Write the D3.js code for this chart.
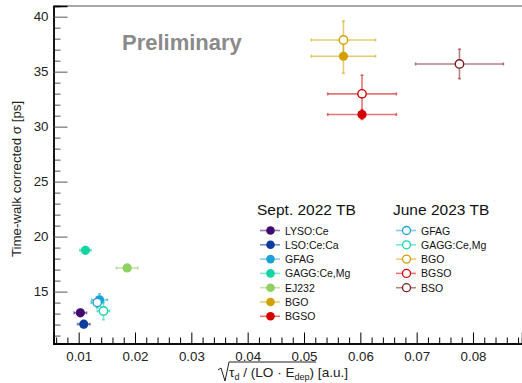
<!DOCTYPE html>
<html><head><meta charset="utf-8">
<script src="https://cdn.jsdelivr.net/npm/d3@7"></script>
<style>body{margin:0;background:#fff}svg{display:block;font-family:"Liberation Sans",Arial,sans-serif}</style>
</head><body><svg id="c" width="522" height="383"></svg>
<script>
// Sept. 2022 TB (filled markers)
const septNames = ["LYSO:Ce","LSO:Ce:Ca","GFAG","GAGG:Ce,Mg","EJ232","BGO","BGSO"];
const septX  = [0.0103, 0.0109, 0.0137, 0.0112, 0.0186, 0.0570, 0.0603];
const septXe = [0.0011, 0.0011, 0.0014, 0.0010, 0.0019, 0.0057, 0.0061];
const septY  = [13.07, 12.04, 14.25, 18.75, 17.15, 36.40, 31.10];
const septYe = [0.3, 0.3, 0.55, 0.35, 0.25, 1.55, 0.45];
const septColors = ["#3f0a72","#0c3c9c","#1ba1d8","#13d4a4","#8fd060","#d4a000","#d40000"];
// June 2023 TB (open markers)
const juneNames = ["GFAG","GAGG:Ce,Mg","BGO","BGSO","BSO"];
const juneX  = [0.0133, 0.0144, 0.0570, 0.0603, 0.0776];
const juneXe = [0.0011, 0.0011, 0.0057, 0.0061, 0.0078];
const juneY  = [14.0, 13.24, 37.88, 32.98, 35.70];
const juneYe = [0.5, 0.8, 1.72, 1.7, 1.34];
const juneColors = ["#1ba1d8","#13d4a4","#d4a000","#d40000","#7b1c1c"];
const xTicks = [0.01,0.02,0.03,0.04,0.05,0.06,0.07,0.08];
const yTicks = [15,20,25,30,35,40];

const svg = d3.select("#c");
const L=53.5, R=522, T=6, B=343.5;
const x = d3.scaleLinear().domain([0.00553,0.0887]).range([L,R]);
const y = d3.scaleLinear().domain([10.28,40.97]).range([B,T]);

// top border
svg.append("line").attr("x1",L).attr("x2",R).attr("y1",T).attr("y2",T).attr("stroke","#888").attr("stroke-width",1.6);

// axes
const xMinor = d3.range(0.006,0.0887,0.002).filter(v=>!xTicks.some(t=>Math.abs(t-v)<1e-6));
const yMinor = d3.range(11,41,1).filter(v=>v%5!==0);
const xa = svg.append("g").attr("transform",`translate(0,${B})`);
xa.call(d3.axisTop(x).tickValues(xMinor).tickSize(6).tickFormat(""));
xa.append("g").call(d3.axisTop(x).tickValues(xTicks).tickSize(11).tickFormat(""));
xa.selectAll(".domain").attr("stroke","#000").attr("stroke-width",1.4);
xa.selectAll("line").attr("stroke","#000");
const xl = svg.append("g").attr("transform",`translate(0,${B})`)
 .call(d3.axisBottom(x).tickValues(xTicks).tickSize(0).tickPadding(8).tickFormat(d3.format(".2f")));
xl.select(".domain").remove();
xl.selectAll("text").attr("font-size",13.3).attr("fill","#222").attr("font-family","Liberation Sans, Arial, sans-serif");

const ya = svg.append("g").attr("transform",`translate(${L},0)`);
ya.call(d3.axisRight(y).tickValues(yMinor).tickSize(7).tickFormat(""));
ya.append("g").call(d3.axisRight(y).tickValues(yTicks).tickSize(14).tickFormat(""));
ya.selectAll(".domain").attr("stroke","#000").attr("stroke-width",1.4);
ya.selectAll("line").attr("stroke","#000");
ya.selectAll("g.tick line").attr("stroke","#555");
const yl = svg.append("g").attr("transform",`translate(${L},0)`)
 .call(d3.axisLeft(y).tickValues(yTicks).tickSize(0).tickPadding(5));
yl.select(".domain").remove();
yl.selectAll("text").attr("font-size",13.3).attr("fill","#222").attr("font-family","Liberation Sans, Arial, sans-serif");

// titles
svg.append("text").attr("transform","translate(21,179) rotate(-90)").attr("text-anchor","middle")
 .attr("font-size",13.3).attr("fill","#222").text("Time-walk corrected σ [ps]");
const xt = svg.append("text").attr("x",229).attr("y",377).attr("font-size",13.6).attr("fill","#222");
xt.append("tspan").text("τ");
xt.append("tspan").attr("font-size",9).attr("dy",3).text("d");
xt.append("tspan").attr("dy",-3).text(" / (LO · E");
xt.append("tspan").attr("font-size",9).attr("dy",3).text("dep");
xt.append("tspan").attr("dy",-3).text(")  [a.u.]");
svg.append("path").attr("d","M218,370 L221,368 L225,381 L229,362 L316,362").attr("fill","none").attr("stroke","#222").attr("stroke-width",1);

svg.append("text").attr("x",122).attr("y",50).attr("font-size",22).attr("font-weight","bold").attr("fill","#8a8a8a").text("Preliminary");

// points
function drawPoints(xs,xes,ys,yes,cols,open){
  const g = svg.append("g");
  xs.forEach((xv,i)=>{
    const c=cols[i], cx=x(xv), cy=y(ys[i]);
    const x0=x(xv-xes[i]), x1=x(xv+xes[i]), y0=y(ys[i]-yes[i]), y1=y(ys[i]+yes[i]);
    const eg = g.append("g").attr("stroke",c).attr("stroke-opacity",0.55).attr("stroke-width",1.6);
    eg.append("line").attr("x1",x0).attr("x2",x1).attr("y1",cy).attr("y2",cy);
    eg.append("line").attr("x1",cx).attr("x2",cx).attr("y1",y0).attr("y2",y1);
    [x0,x1].forEach(v=>eg.append("line").attr("x1",v).attr("x2",v).attr("y1",cy-1.5).attr("y2",cy+1.5));
    [y0,y1].forEach(v=>eg.append("line").attr("x1",cx-1.5).attr("x2",cx+1.5).attr("y1",v).attr("y2",v));
    g.append("circle").attr("cx",cx).attr("cy",cy).attr("r",open?4.2:4.6)
      .attr("fill",open?"#fff":c).attr("stroke",c).attr("stroke-width",open?1.4:0);
  });
}
drawPoints(septX,septXe,septY,septYe,septColors,false);
drawPoints(juneX,juneXe,juneY,juneYe,juneColors,true);

// legend
function legend(x0,title,names,cols,open){
  svg.append("text").attr("x",x0-3).attr("y",215).attr("font-size",15.5).attr("fill","#111").text(title);
  names.forEach((n,i)=>{
    const cy=230.5+i*14.3, c=cols[i];
    svg.append("line").attr("x1",x0).attr("x2",x0+20).attr("y1",cy).attr("y2",cy).attr("stroke",c).attr("stroke-opacity",0.55).attr("stroke-width",1.6);
    svg.append("circle").attr("cx",x0+10.5).attr("cy",cy).attr("r",open?4:4.3).attr("fill",open?"#fff":c).attr("stroke",c).attr("stroke-width",open?1.3:0);
    svg.append("text").attr("x",x0+25).attr("y",cy+4).attr("font-size",10.5).attr("fill","#111").text(n);
  });
}
legend(260,"Sept. 2022 TB",septNames,septColors,false);
legend(396,"June 2023 TB",juneNames,juneColors,true);
</script></body></html>
